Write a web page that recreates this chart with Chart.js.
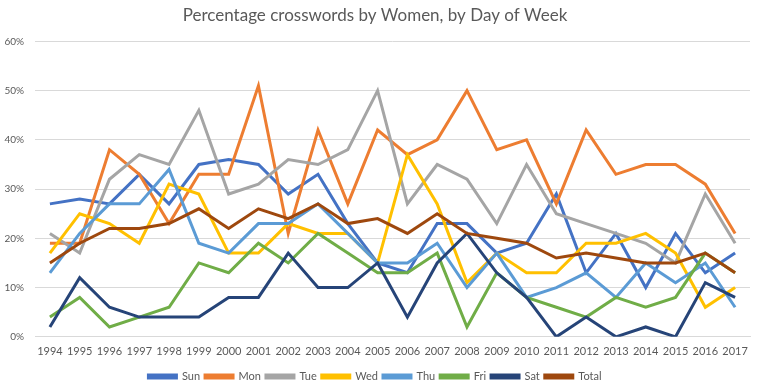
<!DOCTYPE html>
<html>
<head>
<meta charset="utf-8">
<script src="https://cdn.jsdelivr.net/npm/chart.js@4"></script>
<style>
  html, body { margin: 0; padding: 0; background: #fff; }
  #wrap { width: 758px; height: 392px; }
</style>
</head>
<body>
<div id="wrap"><canvas id="chart"></canvas></div>
<script>
const years = ['1994','1995','1996','1997','1998','1999','2000','2001','2002','2003','2004','2005',
               '2006','2007','2008','2009','2010','2011','2012','2013','2014','2015','2016','2017'];

const sun   = [27, 28, 27, 33, 27, 35, 36, 35, 29, 33, 23, 15, 13, 23, 23, 17, 19, 29, 13, 21, 10, 21, 13, 17];
const mon   = [19, 19, 38, 33, 23, 33, 33, 51, 21, 42, 27, 42, 37, 40, 50, 38, 40, 27, 42, 33, 35, 35, 31, 21];
const tue   = [21, 17, 32, 37, 35, 46, 29, 31, 36, 35, 38, 50, 27, 35, 32, 23, 35, 25, 23, 21, 19, 15, 29, 19];
const wed   = [17, 25, 23, 19, 31, 29, 17, 17, 23, 21, 21, 15, 37, 27, 11, 17, 13, 13, 19, 19, 21, 17, 6, 10];
const thu   = [13, 21, 27, 27, 34, 19, 17, 23, 23, 27, 21, 15, 15, 19, 10, 17, 8, 10, 13, 8, 15, 11, 15, 6];
const fri   = [4, 8, 2, 4, 6, 15, 13, 19, 15, 21, 17, 13, 13, 17, 2, 13, 8, 6, 4, 8, 6, 8, 17, 13];
const sat   = [2, 12, 6, 4, 4, 4, 8, 8, 17, 10, 10, 15, 4, 15, 21, 13, 8, 0, 4, 0, 2, 0, 11, 8];
const total = [15, 19, 22, 22, 23, 26, 22, 26, 24, 27, 23, 24, 21, 25, 21, 20, 19, 16, 17, 16, 15, 15, 17, 13];

const seriesNames  = ['Sun', 'Mon', 'Tue', 'Wed', 'Thu', 'Fri', 'Sat', 'Total'];
const seriesData   = [sun, mon, tue, wed, thu, fri, sat, total];
const seriesColors = ['#4472C4', '#ED7D31', '#A5A5A5', '#FFC000', '#5B9BD5', '#70AD47', '#264478', '#9E480E'];

const textColor = '#595959';
const fontFamily = 'Lato, "Open Sans", sans-serif';

// Excel paints later series on top, so give the last one the lowest order
const datasets = seriesNames.map((name, i) => ({
    label: name,
    data: seriesData[i],
    borderColor: seriesColors[i],
    backgroundColor: seriesColors[i],
    borderWidth: 3,
    pointRadius: 0,
    tension: 0,
    fill: false,
    order: seriesNames.length - i
}));

new Chart(document.getElementById('chart'), {
    type: 'line',
    data: { labels: years, datasets: datasets },
    options: {
        responsive: true,
        maintainAspectRatio: false,
        animation: false,
        layout: { padding: { left: 0, right: 8, top: 4, bottom: 0 } },
        plugins: {
            title: {
                display: true,
                text: 'Percentage crosswords by Women, by Day of Week',
                color: textColor,
                font: { family: fontFamily, size: 17, weight: 'normal' },
                padding: { top: 1, bottom: 16 }
            },
            legend: {
                position: 'bottom',
                labels: {
                    color: textColor,
                    font: { family: fontFamily, size: 11 },
                    boxWidth: 28,
                    boxHeight: 3,
                    padding: 5,
                    sort: (a, b) => a.datasetIndex - b.datasetIndex
                }
            },
            tooltip: { enabled: false }
        },
        scales: {
            x: {
                offset: true,
                grid: { display: false, drawTicks: false },
                border: { display: true, color: '#D9D9D9' },
                ticks: {
                    color: textColor,
                    font: { family: fontFamily, size: 11 },
                    maxRotation: 0,
                    autoSkip: false,
                    padding: 8
                }
            },
            y: {
                min: 0,
                max: 60,
                afterFit: scale => { scale.width = 35; },
                grid: { color: '#D9D9D9', drawTicks: false },
                border: { display: false },
                ticks: {
                    stepSize: 10,
                    color: textColor,
                    font: { family: fontFamily, size: 10 },
                    padding: 11,
                    callback: v => v + '%'
                }
            }
        }
    }
});
</script>
</body>
</html>
